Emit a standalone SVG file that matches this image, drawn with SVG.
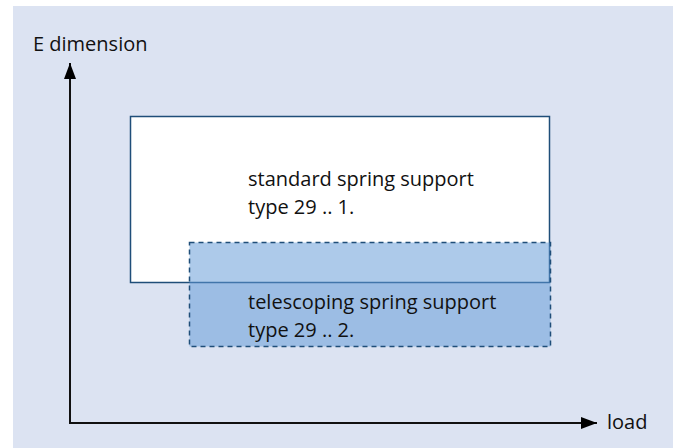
<svg xmlns="http://www.w3.org/2000/svg" width="673" height="448" viewBox="0 0 673 448">
  <style>
    .t { font-family: "Open Sans", "DejaVu Sans", sans-serif; font-size: 20px; fill: #111; }
    .axis { stroke: #111; stroke-width: 2; fill: none; }
  </style>
  <defs>
    <marker id="ah" markerWidth="16" markerHeight="12" refX="16" refY="6" orient="auto" markerUnits="userSpaceOnUse">
      <path d="M0,0 L16,6 L0,12 Z" fill="#000"/>
    </marker>
  </defs>
  <rect x="0" y="0" width="673" height="448" fill="#ffffff"/>
  <rect x="13" y="6" width="660" height="442" fill="#dce3f2"/>
  <g id="standard">
    <rect x="130.5" y="116.5" width="419" height="166" fill="#ffffff" stroke="#1f4e79" stroke-width="1.5"/>
    <text class="t" x="248" y="186">standard spring support</text>
    <text class="t" x="248" y="214">type 29 .. 1.</text>
  </g>
  <g id="telescoping">
    <rect x="189.5" y="242.5" width="361" height="104" fill="#6299d6" fill-opacity="0.52" stroke="#1f4e79" stroke-width="1.5" stroke-dasharray="5,4"/>
    <text class="t" x="248" y="309">telescoping spring support</text>
    <text class="t" x="248" y="337">type 29 .. 2.</text>
  </g>
  <g id="connectors">
    <path class="axis" d="M70,423 L70,63" marker-end="url(#ah)"/>
    <path class="axis" d="M69,423 L597,423" marker-end="url(#ah)"/>
  </g>
  <text class="t" x="33" y="51">E dimension</text>
  <text class="t" x="607" y="429">load</text>
</svg>
